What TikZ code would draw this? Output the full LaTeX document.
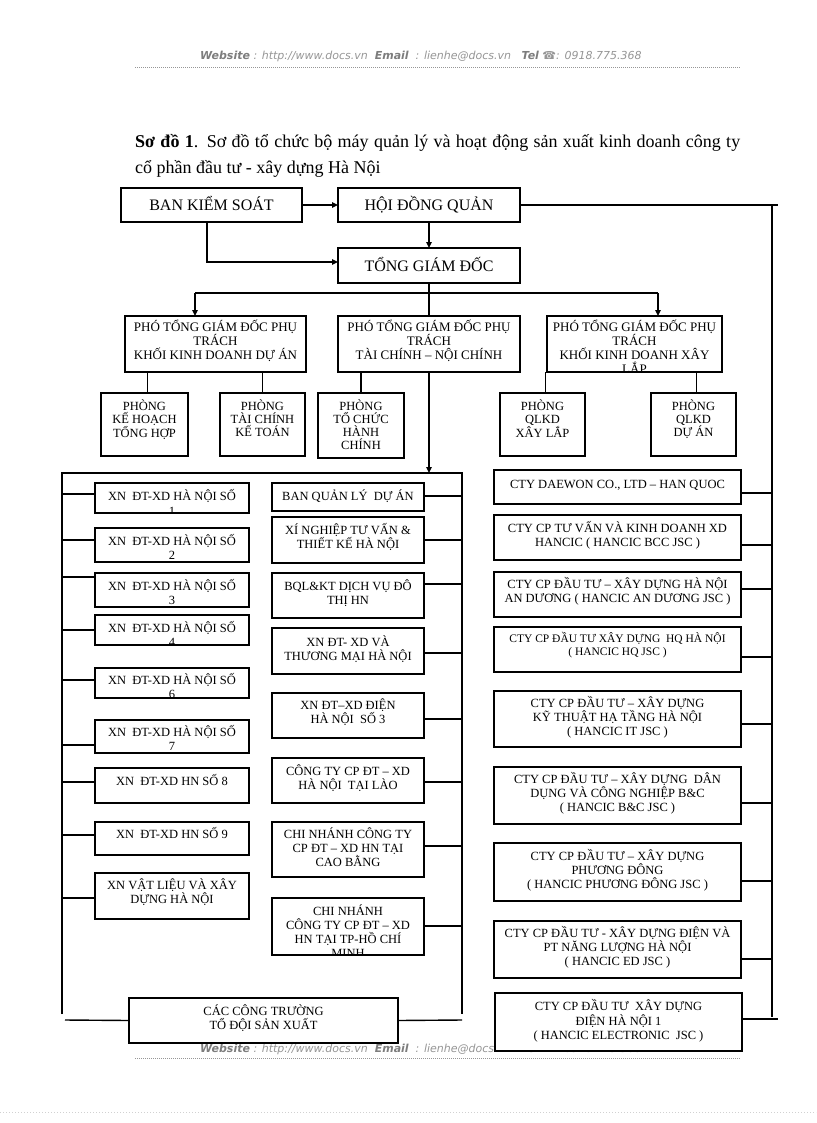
\documentclass[tikz,border=0pt]{standalone}
\usepackage{fontspec}
\setmainfont{Liberation Serif}
\newfontfamily\hdrfont{DejaVu Sans}
\usetikzlibrary{arrows.meta}
\definecolor{hdrgray}{RGB}{150,150,150}
\definecolor{hdrdark}{RGB}{125,125,125}
\tikzset{
  boxst/.style={draw, line width=1.6pt, fill=white, inner sep=0pt, outer sep=0pt},
  txt/.style={inner sep=0pt, align=center, font=\fontsize{12.5}{14.2}\selectfont},
  ptg/.style={font=\fontsize{13}{14}\selectfont},
  dep/.style={font=\fontsize{12.5}{13}\selectfont},
  smalltxt/.style={font=\fontsize{11.5}{12.5}\selectfont},
  bigtxt/.style={inner sep=0pt, font=\fontsize{16}{18}\selectfont},
  conn/.style={line width=1.4pt},
  thinconn/.style={line width=1.1pt},
  arr/.style={line width=1.4pt, -{Triangle[length=6pt,width=5.5pt]}},
}
% optional text style, name, x1, y1, x2, y2, first-baseline offset, text
\newcommand\bxt[8][]{%
  \node[boxst, minimum width={(#5-#3)*1pt}, minimum height={(#6-#4)*1pt}] (#2) at ({(#3+#5)/2},{(#4+#6)/2}) {};
  \begin{scope}
    \clip ({#3+0.9},{#4+0.9}) rectangle ({#5-0.9},{#6-0.9});
    \node[txt,#1,anchor=north] (#2-t) at ({(#3+#5)/2},{#4+#7-13}) {\rule{0pt}{13pt}#8};
  \end{scope}}
% single line big box: name, x1, y1, x2, y2, baseline offset, text
\newcommand\bxs[7]{%
  \node[boxst, minimum width={(#4-#2)*1pt}, minimum height={(#5-#3)*1pt}] (#1) at ({(#2+#4)/2},{(#3+#5)/2}) {};
  \node[bigtxt,anchor=base] (#1-t) at ({(#2+#4)/2},{#3+#6}) {#7};}
\begin{document}
\begin{tikzpicture}[x=1pt,y=-1pt]
\useasboundingbox[fill=white] (0,0) rectangle (816,1123);

% header
\node[anchor=base west, inner sep=0pt, text=hdrgray, font=\hdrfont\itshape\fontsize{11}{13}\selectfont] (hdr) at (200,60)
  {\textcolor{hdrdark}{\textbf{Website}} : http://www.docs.vn \ \textcolor{hdrdark}{\textbf{Email}} \ : lienhe@docs.vn \ \ \textcolor{hdrdark}{\textbf{Tel}} {\upshape ☎}: 0918.775.368};
\coordinate (hl1) at (135,67); \coordinate (hl2) at (740,67);
\draw[hdrgray, line width=0.6pt, dash pattern=on 1pt off 1pt] (hl1) -- (hl2);

% footer (partly hidden by boxes)
\node[anchor=base west, inner sep=0pt, text=hdrgray, font=\hdrfont\itshape\fontsize{11}{13}\selectfont] (ftr) at (200,1052)
  {\textcolor{hdrdark}{\textbf{Website}} : http://www.docs.vn \ \textcolor{hdrdark}{\textbf{Email}} \ : lienhe@docs.vn \ \ \textcolor{hdrdark}{\textbf{Tel}} {\upshape ☎}: 0918.775.368};
\coordinate (fl1) at (135,1058); \coordinate (fl2) at (740,1058);
\draw[hdrgray, line width=0.6pt, dash pattern=on 1pt off 1pt] (fl1) -- (fl2);
\coordinate (pl1) at (0,1112); \coordinate (pl2) at (816,1112);
\draw[black!18, line width=0.6pt, dash pattern=on 1pt off 2pt] (pl1) -- (pl2);

% title
\node[anchor=base west, inner sep=0pt, font=\fontsize{18}{26}\selectfont] (ttl1) at (135,148)
  {\makebox[605pt][s]{\textbf{Sơ đồ 1}. Sơ đồ tổ chức bộ máy quản lý và hoạt động sản xuất kinh doanh công ty}};
\node[anchor=base west, inner sep=0pt, font=\fontsize{18}{26}\selectfont] (ttl2) at (135,174)
  {cổ phần đầu tư - xây dựng Hà Nội};

% top boxes
\bxs{BKS}{121}{188}{302}{222}{23}{BAN KIỂM SOÁT}
\bxs{HDQ}{338}{188}{520}{222}{23}{HỘI ĐỒNG QUẢN}
\bxs{TGD}{338}{248}{520}{283}{23.5}{TỔNG GIÁM ĐỐC}

% vice directors
\bxt[ptg]{P1}{125}{316}{306}{372}{15}{PHÓ TỔNG GIÁM ĐỐC PHỤ\\TRÁCH\\KHỐI KINH DOANH DỰ ÁN}
\bxt[ptg]{P2}{338}{316}{520}{372}{15}{PHÓ TỔNG GIÁM ĐỐC PHỤ\\TRÁCH\\TÀI CHÍNH – NỘI CHÍNH}
\bxt[ptg]{P3}{547}{316}{722}{372}{15}{PHÓ TỔNG GIÁM ĐỐC PHỤ\\TRÁCH\\KHỐI KINH DOANH XÂY\\LẮP}

% departments
\bxt[dep]{K1}{101}{393}{188}{456}{17.5}{PHÒNG\\KẾ HOẠCH\\TỔNG HỢP}
\bxt[dep]{K2}{220}{393}{305}{456}{17.5}{PHÒNG\\TÀI CHÍNH\\KẾ TOÁN}
\bxt[dep]{K3}{318}{393}{404}{458}{17.5}{PHÒNG\\TỔ CHỨC\\HÀNH\\CHÍNH}
\bxt[dep]{K4}{500}{393}{585}{456}{17.5}{PHÒNG\\QLKD\\XÂY LẮP}
\bxt[dep]{K5}{651}{393}{736}{456}{17.5}{PHÒNG\\QLKD\\DỰ ÁN}

% left column
\bxt{L1}{95}{483}{249}{513}{17.7}{XN \ ĐT-XD HÀ NỘI SỐ\\1}
\bxt{L2}{95}{528}{249}{562}{17}{XN \ ĐT-XD HÀ NỘI SỐ\\2}
\bxt{L3}{95}{573}{249}{607}{17}{XN \ ĐT-XD HÀ NỘI SỐ\\3}
\bxt{L4}{95}{615}{249}{645}{17}{XN \ ĐT-XD HÀ NỘI SỐ\\4}
\bxt{L5}{95}{668}{249}{698}{16}{XN \ ĐT-XD HÀ NỘI SỐ\\6}
\bxt{L6}{95}{720}{249}{753}{16}{XN \ ĐT-XD HÀ NỘI SỐ\\7}
\bxt{L7}{95}{768}{249}{803}{17.5}{XN \ ĐT-XD HN SỐ 8}
\bxt{L8}{95}{822}{249}{855}{16.3}{XN \ ĐT-XD HN SỐ 9}
\bxt{L9}{95}{873}{249}{919}{16.3}{XN VẬT LIỆU VÀ XÂY\\DỰNG HÀ NỘI}

% middle column
\bxt{M1}{272}{483}{424}{511}{17.7}{BAN QUẢN LÝ \ DỰ ÁN}
\bxt{M2}{272}{517}{424}{563}{17}{XÍ NGHIỆP TƯ VẤN \&\\THIẾT KẾ HÀ NỘI}
\bxt{M3}{272}{573}{424}{618}{17}{BQL\&KT DỊCH VỤ ĐÔ\\THỊ HN}
\bxt{M4}{272}{628}{424}{674}{18}{XN ĐT- XD VÀ\\THƯƠNG MẠI HÀ NỘI}
\bxt{M5}{272}{693}{424}{738}{16}{XN ĐT–XD ĐIỆN\\HÀ NỘI \ SỐ 3}
\bxt{M6}{272}{758}{424}{803}{17}{CÔNG TY CP ĐT – XD\\HÀ NỘI \ TẠI LÀO}
\bxt{M7}{272}{822}{424}{877}{16}{CHI NHÁNH CÔNG TY\\CP ĐT – XD HN TẠI\\CAO BẰNG}
\bxt{M8}{272}{898}{424}{955}{17}{CHI NHÁNH\\CÔNG TY CP ĐT – XD\\HN TẠI TP-HỒ CHÍ\\MINH}

% bottom box
\bxt{CT}{129}{998}{398}{1043}{17}{CÁC CÔNG TRƯỜNG\\TỔ ĐỘI SẢN XUẤT}

% right column
\bxt{R1}{494}{470}{741}{504}{18.5}{CTY DAEWON CO., LTD – HAN QUOC}
\bxt{R2}{494}{515}{741}{560}{17.5}{CTY CP TƯ VẤN VÀ KINH DOANH XD\\HANCIC ( HANCIC BCC JSC )}
\bxt{R3}{494}{572}{741}{617}{16}{CTY CP ĐẦU TƯ – XÂY DỰNG HÀ NỘI\\AN DƯƠNG ( HANCIC AN DƯƠNG JSC )}
\bxt[smalltxt]{R4}{494}{627}{741}{672}{15.7}{CTY CP ĐẦU TƯ XÂY DỰNG \ HQ HÀ NỘI\\( HANCIC HQ JSC )}
\bxt{R5}{494}{691}{741}{747}{16}{CTY CP ĐẦU TƯ – XÂY DỰNG\\KỸ THUẬT HẠ TẦNG HÀ NỘI\\( HANCIC IT JSC )}
\bxt{R6}{494}{767}{741}{824}{16}{CTY CP ĐẦU TƯ – XÂY DỰNG \ DÂN\\DỤNG VÀ CÔNG NGHIỆP B\&C\\( HANCIC B\&C JSC )}
\bxt{R7}{494}{843}{741}{901}{17}{CTY CP ĐẦU TƯ – XÂY DỰNG\\PHƯƠNG ĐÔNG\\( HANCIC PHƯƠNG ĐÔNG JSC )}
\bxt{R8}{494}{921}{741}{978}{16}{CTY CP ĐẦU TƯ - XÂY DỰNG ĐIỆN VÀ\\PT NĂNG LƯỢNG HÀ NỘI\\( HANCIC ED JSC )}
\bxt{R9}{495}{993}{742}{1051}{17.7}{CTY CP ĐẦU TƯ \ XÂY DỰNG\\ĐIỆN HÀ NỘI 1\\( HANCIC ELECTRONIC \ JSC )}

% ---- connectors: top
\draw[arr] (BKS.east) -- (HDQ.west);
\draw[arr] (HDQ.south) -- (TGD.north);
\coordinate (k1) at (207,262);
\draw[arr] (BKS.south -| k1) -- (k1) -- (k1 -| TGD.west);
\coordinate (RT) at (772,205);
\coordinate (RTe) at (778,205);
\coordinate (RBot) at (772,1017);
\draw[thinconn] (HDQ.east) -- (RTe);
\draw[thinconn] (RT) -- (RBot);

% TGD to vice directors
\coordinate (j1) at (195,293);
\coordinate (j3) at (658,293);
\draw[conn] (TGD.south) -- (P2.north);
\draw[conn] (j1) -- (j3);
\draw[arr] (j1) -- (j1 |- P1.north);
\draw[arr] (j3) -- (j3 |- P3.north);

% vice directors to departments
\draw[conn] ([xshift=3pt]K1.north) -- ([xshift=3pt]K1.north |- P1.south);
\draw[conn] (K2.north) -- (K2.north |- P1.south);
\draw[conn] (K3.north) -- (K3.north |- P2.south);
\draw[conn] ([xshift=3pt]K4.north) -- ([xshift=3pt]K4.north |- P3.south);
\draw[conn] ([xshift=3pt]K5.north) -- ([xshift=3pt]K5.north |- P3.south);

% left frame
\coordinate (LB) at (62,473);
\coordinate (RB) at (462,473);
\coordinate (LBend) at (62,1014);
\coordinate (RBend) at (462,1014);
\draw[conn] (LBend) -- (LB) -- (RB) -- (RBend);
\draw[arr] (P2.south) -- (P2.south |- LB);
\foreach \n/\yy in {L1/494,L2/540,L3/577,L4/630,L5/680,L6/745,L7/782,L8/835,L9/898}
  \draw[conn] (\n.west |- 0,\yy) -- (LB |- 0,\yy);
\foreach \n/\yy in {M1/496,M2/540,M3/584,M4/653,M5/719,M6/782,M7/846,M8/926}
  \draw[conn] (\n.east |- 0,\yy) -- (RB |- 0,\yy);
\coordinate (BL) at (65,1020);
\coordinate (BR) at (462,1020);
\draw[conn] (BL) -- (CT.west);
\draw[conn] (CT.east) -- (BR);

% right column connectors
\foreach \n/\yy in {R1/493,R2/545,R3/589,R4/657,R5/724,R6/803,R7/881,R8/959}
  \draw[conn] (\n.east |- 0,\yy) -- (RT |- 0,\yy);
\coordinate (R9e) at (778,1019);
\draw[conn] (R9.east |- R9e) -- (R9e);
\end{tikzpicture}
\end{document}
